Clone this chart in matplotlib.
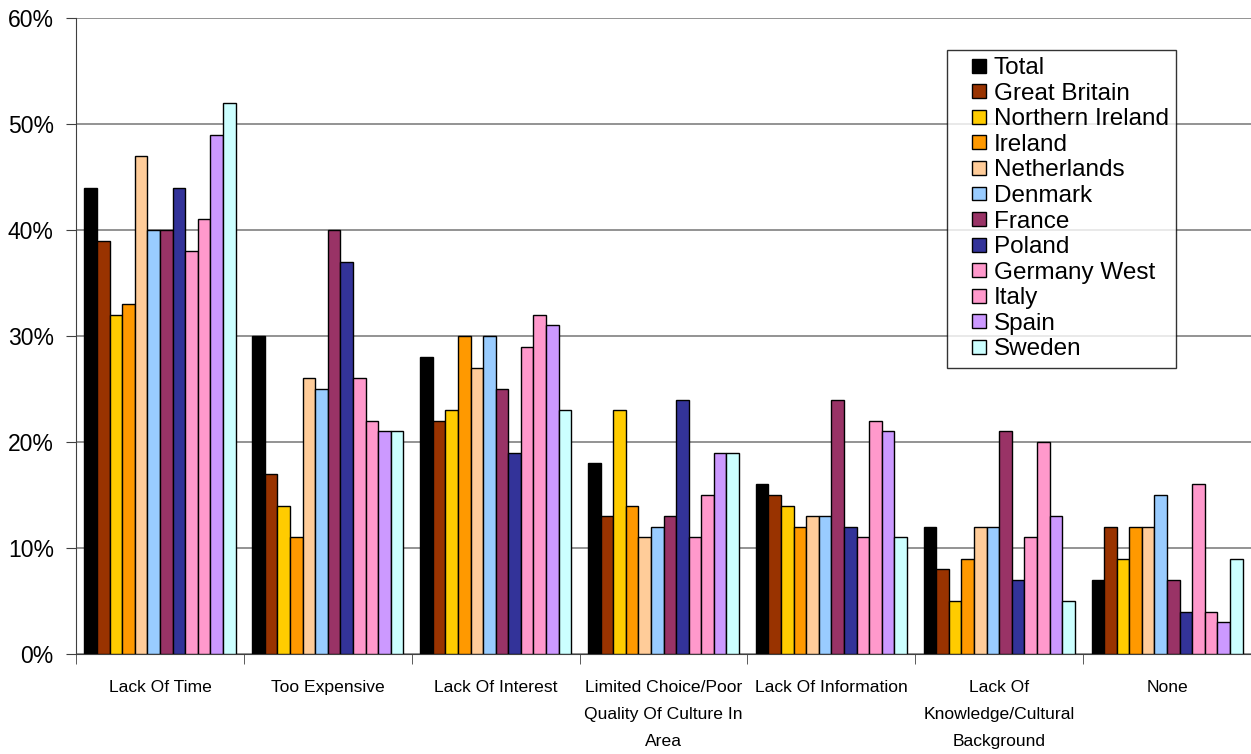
import numpy as np
import matplotlib.pyplot as plt
from matplotlib.patches import Rectangle
from matplotlib.legend_handler import HandlerPatch
from matplotlib.ticker import FuncFormatter

plt.rcParams['font.family'] = ['Liberation Sans', 'DejaVu Sans']

# === DATA ===
categories = ['Lack Of Time', 'Too Expensive', 'Lack Of Interest',
              'Limited Choice/Poor\nQuality Of Culture In\nArea',
              'Lack Of Information',
              'Lack Of\nKnowledge/Cultural\nBackground', 'None']
countries = ['Total', 'Great Britain', 'Northern Ireland', 'Ireland', 'Netherlands',
             'Denmark', 'France', 'Poland', 'Germany West', 'Italy', 'Spain', 'Sweden']
colors = ['#000000', '#993300', '#FFCC00', '#FF9900', '#FFCC99', '#99CCFF',
          '#993366', '#333399', '#FF99CC', '#FF99CC', '#CC99FF', '#CCFFFF']

total = [44, 30, 28, 18, 16, 12, 7]
great_britain = [39, 17, 22, 13, 15, 8, 12]
northern_ireland = [32, 14, 23, 23, 14, 5, 9]
ireland = [33, 11, 30, 14, 12, 9, 12]
netherlands = [47, 26, 27, 11, 13, 12, 12]
denmark = [40, 25, 30, 12, 13, 12, 15]
france = [40, 40, 25, 13, 24, 21, 7]
poland = [44, 37, 19, 24, 12, 7, 4]
germany_west = [38, 26, 29, 11, 11, 11, 16]
italy = [41, 22, 32, 15, 22, 20, 4]
spain = [49, 21, 31, 19, 21, 13, 3]
sweden = [52, 21, 23, 19, 11, 5, 9]

series = [total, great_britain, northern_ireland, ireland, netherlands, denmark,
          france, poland, germany_west, italy, spain, sweden]


# small square legend keys sitting at the right of the handle box
def small_box(legend, orig_handle, xdescent, ydescent, width, height, fontsize):
    s = 10
    return Rectangle((width - s - xdescent, (height - s) / 2 - ydescent), s, s)


# === PLOT ===
fig = plt.figure(figsize=(12.51, 7.54), dpi=100)
ax = fig.add_axes([0.0608, 0.1326, 0.9392, 0.8435])

x = np.arange(len(categories))
n = len(series)
w = 0.9 / n
handles = []
for i, vals in enumerate(series):
    bars = ax.bar(x - 0.45 + w * (i + 0.5), vals, width=w, color=colors[i],
                  edgecolor='black', linewidth=1, label=countries[i], zorder=3)
    handles.append(bars.patches[0])

ax.set_xlim(-0.5, len(categories) - 0.5)
ax.set_ylim(0, 60)
ax.set_yticks(range(0, 61, 10))
ax.yaxis.set_major_formatter(FuncFormatter(lambda v, p: f'{int(v)}%'))
ax.yaxis.grid(True, color='#808080', linewidth=1.2, zorder=0)

ax.set_xticks(x)
ax.set_xticklabels(categories, fontsize=12.6, linespacing=1.98)
ax.set_xticks(np.arange(-0.5, len(categories)), minor=True)
ax.tick_params(axis='x', which='major', length=0, pad=19)
ax.tick_params(axis='x', which='minor', length=7, direction='out', color='#404040')
ax.tick_params(axis='y', length=7, direction='out', labelsize=16.5, pad=9, color='#404040')

for s in ['top', 'right']:
    ax.spines[s].set_visible(False)
ax.spines['left'].set_color('#404040')
ax.spines['bottom'].set_color('#404040')

leg = ax.legend(handles, countries, loc='upper left', bbox_to_anchor=(0.7413, 0.9497),
                fontsize=17.5, frameon=True, fancybox=False, handlelength=1.3,
                handleheight=0.7, handletextpad=0.33, labelspacing=0.145,
                borderpad=0.3, borderaxespad=0,
                handler_map={Rectangle: HandlerPatch(patch_func=small_box)})
leg.get_frame().set_edgecolor('black')
leg.get_frame().set_linewidth(1)

plt.savefig('out.png', dpi=100)
